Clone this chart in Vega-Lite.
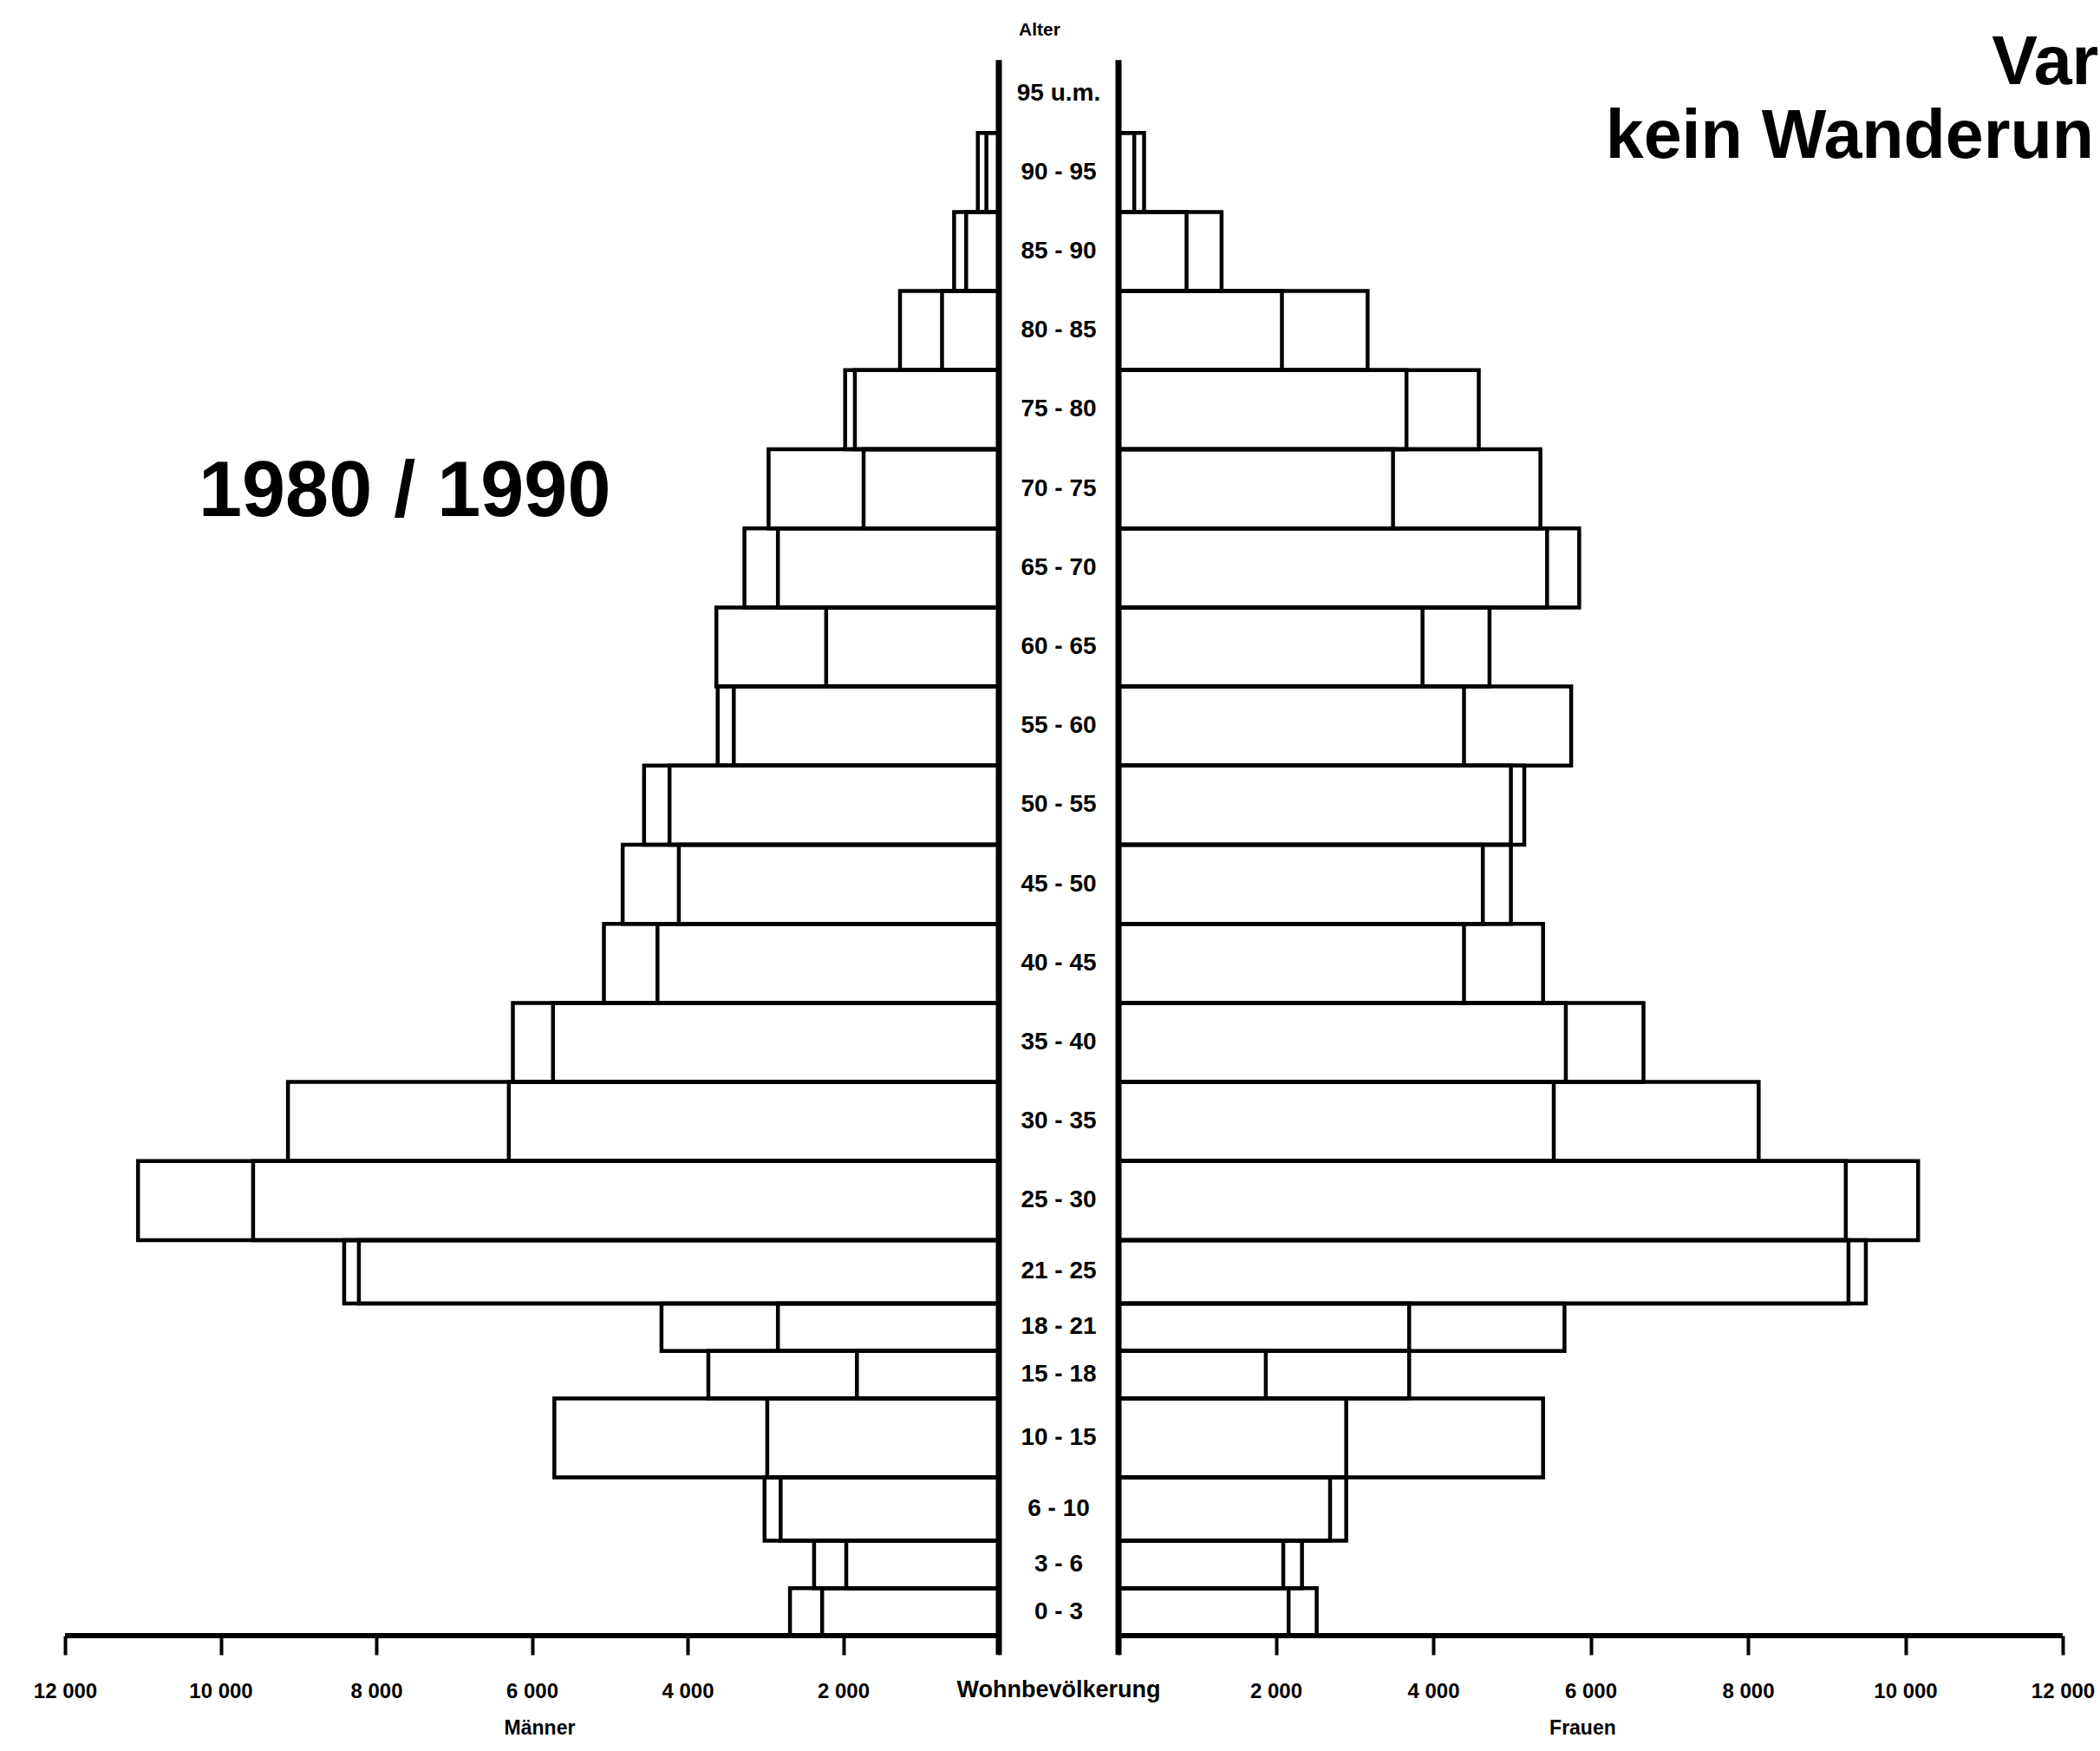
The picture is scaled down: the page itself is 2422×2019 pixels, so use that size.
{
  "$schema": "https://vega.github.io/schema/vega-lite/v6.json",
  "background": "white",
  "padding": 0,
  "autosize": {"type": "pad"},
  "bounds": "flush",
  "spacing": 0,
  "config": {
    "view": {"stroke": null},
    "concat": {"spacing": 0},
    "font": "Liberation Sans",
    "axisY": {"disable": true}
  },
  "datasets": {
    "pop": [
      {"sex": "Männer", "from": 0, "to": 3, "year": "1980", "value": 2684},
      {"sex": "Männer", "from": 0, "to": 3, "year": "1990", "value": 2271},
      {"sex": "Männer", "from": 3, "to": 6, "year": "1980", "value": 2374},
      {"sex": "Männer", "from": 3, "to": 6, "year": "1990", "value": 1961},
      {"sex": "Männer", "from": 6, "to": 10, "year": "1980", "value": 3011},
      {"sex": "Männer", "from": 6, "to": 10, "year": "1990", "value": 2804},
      {"sex": "Männer", "from": 10, "to": 15, "year": "1980", "value": 5712},
      {"sex": "Männer", "from": 10, "to": 15, "year": "1990", "value": 2976},
      {"sex": "Männer", "from": 15, "to": 18, "year": "1980", "value": 3733},
      {"sex": "Männer", "from": 15, "to": 18, "year": "1990", "value": 1824},
      {"sex": "Männer", "from": 18, "to": 21, "year": "1980", "value": 4335},
      {"sex": "Männer", "from": 18, "to": 21, "year": "1990", "value": 2839},
      {"sex": "Männer", "from": 21, "to": 25, "year": "1980", "value": 8413},
      {"sex": "Männer", "from": 21, "to": 25, "year": "1990", "value": 8224},
      {"sex": "Männer", "from": 25, "to": 30, "year": "1980", "value": 11062},
      {"sex": "Männer", "from": 25, "to": 30, "year": "1990", "value": 9583},
      {"sex": "Männer", "from": 30, "to": 35, "year": "1980", "value": 9135},
      {"sex": "Männer", "from": 30, "to": 35, "year": "1990", "value": 6297},
      {"sex": "Männer", "from": 35, "to": 40, "year": "1980", "value": 6245},
      {"sex": "Männer", "from": 35, "to": 40, "year": "1990", "value": 5729},
      {"sex": "Männer", "from": 40, "to": 45, "year": "1980", "value": 5075},
      {"sex": "Männer", "from": 40, "to": 45, "year": "1990", "value": 4387},
      {"sex": "Männer", "from": 45, "to": 50, "year": "1980", "value": 4834},
      {"sex": "Männer", "from": 45, "to": 50, "year": "1990", "value": 4112},
      {"sex": "Männer", "from": 50, "to": 55, "year": "1980", "value": 4559},
      {"sex": "Männer", "from": 50, "to": 55, "year": "1990", "value": 4232},
      {"sex": "Männer", "from": 55, "to": 60, "year": "1980", "value": 3613},
      {"sex": "Männer", "from": 55, "to": 60, "year": "1990", "value": 3406},
      {"sex": "Männer", "from": 60, "to": 65, "year": "1980", "value": 2219},
      {"sex": "Männer", "from": 60, "to": 65, "year": "1990", "value": 3630},
      {"sex": "Männer", "from": 65, "to": 70, "year": "1980", "value": 3269},
      {"sex": "Männer", "from": 65, "to": 70, "year": "1990", "value": 2839},
      {"sex": "Männer", "from": 70, "to": 75, "year": "1980", "value": 2959},
      {"sex": "Männer", "from": 70, "to": 75, "year": "1990", "value": 1738},
      {"sex": "Männer", "from": 75, "to": 80, "year": "1980", "value": 1975},
      {"sex": "Männer", "from": 75, "to": 80, "year": "1990", "value": 1850},
      {"sex": "Männer", "from": 80, "to": 85, "year": "1980", "value": 1270},
      {"sex": "Männer", "from": 80, "to": 85, "year": "1990", "value": 730},
      {"sex": "Männer", "from": 85, "to": 90, "year": "1980", "value": 575},
      {"sex": "Männer", "from": 85, "to": 90, "year": "1990", "value": 420},
      {"sex": "Männer", "from": 90, "to": 95, "year": "1980", "value": 270},
      {"sex": "Männer", "from": 90, "to": 95, "year": "1990", "value": 160},
      {"sex": "Frauen", "from": 0, "to": 3, "year": "1980", "value": 2519},
      {"sex": "Frauen", "from": 0, "to": 3, "year": "1990", "value": 2162},
      {"sex": "Frauen", "from": 3, "to": 6, "year": "1980", "value": 2332},
      {"sex": "Frauen", "from": 3, "to": 6, "year": "1990", "value": 2094},
      {"sex": "Frauen", "from": 6, "to": 10, "year": "1980", "value": 2894},
      {"sex": "Frauen", "from": 6, "to": 10, "year": "1990", "value": 2689},
      {"sex": "Frauen", "from": 10, "to": 15, "year": "1980", "value": 5396},
      {"sex": "Frauen", "from": 10, "to": 15, "year": "1990", "value": 2894},
      {"sex": "Frauen", "from": 15, "to": 18, "year": "1980", "value": 3694},
      {"sex": "Frauen", "from": 15, "to": 18, "year": "1990", "value": 1872},
      {"sex": "Frauen", "from": 18, "to": 21, "year": "1980", "value": 5668},
      {"sex": "Frauen", "from": 18, "to": 21, "year": "1990", "value": 3694},
      {"sex": "Frauen", "from": 21, "to": 25, "year": "1980", "value": 9498},
      {"sex": "Frauen", "from": 21, "to": 25, "year": "1990", "value": 9277},
      {"sex": "Frauen", "from": 25, "to": 30, "year": "1980", "value": 10162},
      {"sex": "Frauen", "from": 25, "to": 30, "year": "1990", "value": 9243},
      {"sex": "Frauen", "from": 30, "to": 35, "year": "1980", "value": 8136},
      {"sex": "Frauen", "from": 30, "to": 35, "year": "1990", "value": 5532},
      {"sex": "Frauen", "from": 35, "to": 40, "year": "1980", "value": 6672},
      {"sex": "Frauen", "from": 35, "to": 40, "year": "1990", "value": 5685},
      {"sex": "Frauen", "from": 40, "to": 45, "year": "1980", "value": 5396},
      {"sex": "Frauen", "from": 40, "to": 45, "year": "1990", "value": 4391},
      {"sex": "Frauen", "from": 45, "to": 50, "year": "1980", "value": 4987},
      {"sex": "Frauen", "from": 45, "to": 50, "year": "1990", "value": 4630},
      {"sex": "Frauen", "from": 50, "to": 55, "year": "1980", "value": 5157},
      {"sex": "Frauen", "from": 50, "to": 55, "year": "1990", "value": 4987},
      {"sex": "Frauen", "from": 55, "to": 60, "year": "1980", "value": 5753},
      {"sex": "Frauen", "from": 55, "to": 60, "year": "1990", "value": 4391},
      {"sex": "Frauen", "from": 60, "to": 65, "year": "1980", "value": 3864},
      {"sex": "Frauen", "from": 60, "to": 65, "year": "1990", "value": 4715},
      {"sex": "Frauen", "from": 65, "to": 70, "year": "1980", "value": 5855},
      {"sex": "Frauen", "from": 65, "to": 70, "year": "1990", "value": 5447},
      {"sex": "Frauen", "from": 70, "to": 75, "year": "1980", "value": 5362},
      {"sex": "Frauen", "from": 70, "to": 75, "year": "1990", "value": 3489},
      {"sex": "Frauen", "from": 75, "to": 80, "year": "1980", "value": 4579},
      {"sex": "Frauen", "from": 75, "to": 80, "year": "1990", "value": 3660},
      {"sex": "Frauen", "from": 80, "to": 85, "year": "1980", "value": 3166},
      {"sex": "Frauen", "from": 80, "to": 85, "year": "1990", "value": 2077},
      {"sex": "Frauen", "from": 85, "to": 90, "year": "1980", "value": 1310},
      {"sex": "Frauen", "from": 85, "to": 90, "year": "1990", "value": 865},
      {"sex": "Frauen", "from": 90, "to": 95, "year": "1980", "value": 325},
      {"sex": "Frauen", "from": 90, "to": 95, "year": "1990", "value": 200}
    ],
    "bands": [
      {"from": 0, "to": 3, "label": "0 - 3"},
      {"from": 3, "to": 6, "label": "3 -  6"},
      {"from": 6, "to": 10, "label": "6 - 10"},
      {"from": 10, "to": 15, "label": "10 - 15"},
      {"from": 15, "to": 18, "label": "15 - 18"},
      {"from": 18, "to": 21, "label": "18 - 21"},
      {"from": 21, "to": 25, "label": "21 - 25"},
      {"from": 25, "to": 30, "label": "25 - 30"},
      {"from": 30, "to": 35, "label": "30 - 35"},
      {"from": 35, "to": 40, "label": "35 - 40"},
      {"from": 40, "to": 45, "label": "40 - 45"},
      {"from": 45, "to": 50, "label": "45 - 50"},
      {"from": 50, "to": 55, "label": "50 - 55"},
      {"from": 55, "to": 60, "label": "55 - 60"},
      {"from": 60, "to": 65, "label": "60 - 65"},
      {"from": 65, "to": 70, "label": "65 - 70"},
      {"from": 70, "to": 75, "label": "70 - 75"},
      {"from": 75, "to": 80, "label": "75 - 80"},
      {"from": 80, "to": 85, "label": "80 - 85"},
      {"from": 85, "to": 90, "label": "85 - 90"},
      {"from": 90, "to": 95, "label": "90 - 95"},
      {"from": 95, "to": 100, "label": "95 u.m."}
    ]
  },
  "hconcat": [
    {
      "width": 1152,
      "height": 1886,
      "layer": [
        {
          "data": {"name": "pop"},
          "transform": [{"filter": "datum.sex == 'Männer'"}],
          "mark": {"type": "rect", "fill": "white", "fillOpacity": 0, "stroke": "black", "strokeWidth": 4.5},
          "encoding": {
            "x": {
              "field": "value", "type": "quantitative", "title": null,
              "scale": {"domain": [0, 12835.7], "reverse": true, "nice": false},
              "axis": {
                "values": [0, 2000, 4000, 6000, 8000, 10000, 12000],
                "domain": false, "grid": false,
                "tickSize": 22, "tickWidth": 4, "tickColor": "black",
                "labelExpr": "datum.value == 0 ? '' : replace(format(datum.value, ','), ',', ' ')",
                "labelFont": "Liberation Sans",
                "labelFontSize": 24, "labelFontWeight": "bold", "labelColor": "black",
                "labelPadding": 30, "labelFlush": false, "labelOverlap": false,
                "title": null
              }
            },
            "x2": {"datum": 0},
            "y": {"field": "from", "type": "quantitative", "scale": {"domain": [0, 103.4], "nice": false}, "axis": null},
            "y2": {"field": "to"}
          }
        },
        {
          "data": {"values": [{}]},
          "mark": {"type": "rule", "color": "black", "strokeWidth": 7},
          "encoding": {"x": {"datum": 0, "title": null}, "y": {"datum": -1.2, "axis": null}, "y2": {"datum": 99.6}}
        },
        {
          "data": {"values": [{}]},
          "mark": {"type": "rule", "color": "black", "strokeWidth": 6},
          "encoding": {"x": {"datum": 0, "title": null}, "x2": {"datum": 12000}, "y": {"datum": 0, "axis": null}}
        },
        {
          "data": {"values": [{"t": "1980 / 1990"}]},
          "mark": {"type": "text", "align": "left", "baseline": "alphabetic", "fontSize": 90, "fontWeight": "bold", "font": "Liberation Sans", "color": "black"},
          "encoding": {"x": {"datum": 10284, "title": null}, "y": {"datum": 70.8, "axis": null}, "text": {"field": "t"}}
        },
        {
          "data": {"values": [{"t": "Männer"}]},
          "mark": {"type": "text", "align": "center", "baseline": "middle", "fontSize": 23, "fontWeight": "bold", "font": "Liberation Sans", "color": "black"},
          "encoding": {"x": {"datum": 5900, "title": null}, "y": {"datum": -5.87, "axis": null}, "text": {"field": "t"}}
        }
      ]
    },
    {
      "width": 138,
      "height": 1886,
      "layer": [
        {
          "data": {"name": "bands"},
          "transform": [{"calculate": "(datum.from + datum.to) / 2", "as": "mid"}],
          "mark": {"type": "text", "align": "center", "baseline": "middle", "fontSize": 28, "fontWeight": "bold", "font": "Liberation Sans", "color": "black"},
          "encoding": {
            "y": {"field": "mid", "type": "quantitative", "scale": {"domain": [0, 103.4], "nice": false}, "axis": null},
            "text": {"field": "label"}
          }
        },
        {
          "data": {"values": [{"t": "Alter"}]},
          "mark": {"type": "text", "align": "center", "baseline": "middle", "fontSize": 21, "fontWeight": "bold", "font": "Liberation Sans", "color": "black", "dx": -22},
          "encoding": {"y": {"datum": 101.5, "axis": null}, "text": {"field": "t"}}
        },
        {
          "data": {"values": [{"t": "Wohnbevölkerung"}]},
          "mark": {"type": "text", "align": "center", "baseline": "middle", "fontSize": 27, "fontWeight": "bold", "font": "Liberation Sans", "color": "black"},
          "encoding": {"y": {"datum": -3.45, "axis": null}, "text": {"field": "t"}}
        }
      ]
    },
    {
      "width": 1132,
      "height": 1886,
      "layer": [
        {
          "data": {"name": "pop"},
          "transform": [{"filter": "datum.sex == 'Frauen'"}],
          "mark": {"type": "rect", "fill": "white", "fillOpacity": 0, "stroke": "black", "strokeWidth": 4.5},
          "encoding": {
            "x": {
              "field": "value", "type": "quantitative", "title": null,
              "scale": {"domain": [0, 12473.8], "nice": false},
              "axis": {
                "values": [0, 2000, 4000, 6000, 8000, 10000, 12000],
                "domain": false, "grid": false,
                "tickSize": 22, "tickWidth": 4, "tickColor": "black",
                "labelExpr": "datum.value == 0 ? '' : replace(format(datum.value, ','), ',', ' ')",
                "labelFont": "Liberation Sans",
                "labelFontSize": 24, "labelFontWeight": "bold", "labelColor": "black",
                "labelPadding": 30, "labelFlush": false, "labelOverlap": false,
                "title": null
              }
            },
            "x2": {"datum": 0},
            "y": {"field": "from", "type": "quantitative", "scale": {"domain": [0, 103.4], "nice": false}, "axis": null},
            "y2": {"field": "to"}
          }
        },
        {
          "data": {"values": [{}]},
          "mark": {"type": "rule", "color": "black", "strokeWidth": 7},
          "encoding": {"x": {"datum": 0, "title": null}, "y": {"datum": -1.2, "axis": null}, "y2": {"datum": 99.6}}
        },
        {
          "data": {"values": [{}]},
          "mark": {"type": "rule", "color": "black", "strokeWidth": 6},
          "encoding": {"x": {"datum": 0, "title": null}, "x2": {"datum": 12000}, "y": {"datum": 0, "axis": null}}
        },
        {
          "data": {"values": [{"t": "Frauen"}]},
          "mark": {"type": "text", "align": "center", "baseline": "middle", "fontSize": 23, "fontWeight": "bold", "font": "Liberation Sans", "color": "black"},
          "encoding": {"x": {"datum": 5900, "title": null}, "y": {"datum": -5.87, "axis": null}, "text": {"field": "t"}}
        },
        {
          "data": {"values": [{"t": "Var", "x": 11100, "y": 98.1}, {"t": "kein Wanderun", "x": 6190, "y": 93.4}]},
          "mark": {"type": "text", "align": "left", "baseline": "alphabetic", "fontSize": 79, "fontWeight": "bold", "font": "Liberation Sans", "color": "black"},
          "encoding": {
            "x": {"field": "x", "type": "quantitative", "title": null},
            "y": {"field": "y", "type": "quantitative", "axis": null},
            "text": {"field": "t"}
          }
        }
      ]
    }
  ]
}
